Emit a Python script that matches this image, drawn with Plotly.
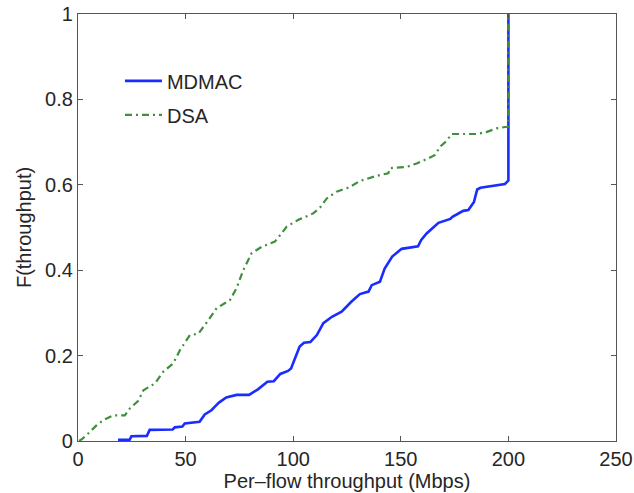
import plotly.graph_objects as go

# Empirical CDF of per-flow throughput (Mbps) for the two schemes
mdmac_x = [18.6, 24.0, 24.8, 32.0, 33.3, 44.0, 45.0, 48.5, 49.6, 56.5, 58.9, 62.0,
           63.5, 65.5, 68.9, 73.7, 79.5, 83.6, 88.0, 91.0, 94.0, 97.6, 99.0, 100.0,
           103.0, 105.0, 108.0, 111.0, 114.0, 118.0, 122.5, 127.0, 131.0, 135.0,
           136.5, 140.3, 142.5, 146.0, 150.4, 158.0, 159.5, 162.0, 167.5, 173.0,
           174.0, 179.0, 181.4, 184.0, 185.5, 187.0, 191.4, 198.4, 199.6, 200.0, 200.0]
mdmac_y = [0.003, 0.003, 0.011, 0.012, 0.026, 0.027, 0.032, 0.034, 0.041, 0.045, 0.062, 0.072,
           0.080, 0.090, 0.102, 0.108, 0.108, 0.121, 0.139, 0.140, 0.157, 0.164, 0.170, 0.183,
           0.221, 0.230, 0.232, 0.248, 0.276, 0.291, 0.303, 0.326, 0.344, 0.350,
           0.365, 0.373, 0.404, 0.432, 0.450, 0.456, 0.471, 0.486, 0.511, 0.520,
           0.525, 0.539, 0.541, 0.560, 0.589, 0.593, 0.597, 0.602, 0.608, 0.610, 1.0]

dsa_x = [0.5, 2.0, 4.0, 8.7, 11.8, 16.4, 21.8, 24.2, 28.0, 30.4, 35.8, 39.6, 44.3,
         47.4, 52.0, 55.9, 60.6, 64.4, 70.6, 73.7, 76.8, 80.7, 85.4, 91.5, 93.9, 97.0,
         102.4, 107.0, 109.3, 112.5, 115.6, 120.2, 126.0, 131.0, 138.8, 144.2, 145.0,
         152.7, 157.4, 162.8, 165.9, 168.2, 171.3, 173.6, 185.3, 190.0, 194.5, 199.2,
         200.0, 200.0]
dsa_y = [0.0, 0.005, 0.014, 0.037, 0.049, 0.060, 0.060, 0.077, 0.094, 0.119, 0.135, 0.162, 0.182,
         0.213, 0.248, 0.251, 0.283, 0.311, 0.330, 0.358, 0.400, 0.440, 0.455, 0.467, 0.482, 0.502,
         0.518, 0.529, 0.533, 0.547, 0.568, 0.584, 0.594, 0.609, 0.621, 0.627, 0.639,
         0.642, 0.650, 0.662, 0.670, 0.689, 0.703, 0.719, 0.719, 0.724, 0.732, 0.736,
         0.737, 1.0]

x_ticks = [0, 50, 100, 150, 200, 250]
y_ticks = [0, 0.2, 0.4, 0.6, 0.8, 1]
y_tick_text = ["0", "0.2", "0.4", "0.6", "0.8", "1"]

FONT = "Liberation Sans, Arial, Helvetica, sans-serif"
AXIS_COLOR = "#555555"
TEXT_COLOR = "#262626"

fig = go.Figure()
fig.add_trace(go.Scatter(
    x=mdmac_x, y=mdmac_y, mode="lines", name="MDMAC", legendgroup="a",
    line=dict(color="#1a2cff", width=2.6),
))
fig.add_trace(go.Scatter(
    x=dsa_x, y=dsa_y, mode="lines", name="DSA", legendgroup="b",
    line=dict(color="#3f8f3f", width=2.2, dash="7px,4px,2px,4px"),
))

axis_common = dict(
    showline=True, linecolor=AXIS_COLOR, linewidth=1.2, mirror="ticks",
    ticks="inside", ticklen=5, tickcolor=AXIS_COLOR, tickwidth=1,
    showgrid=False, zeroline=False, automargin=False,
    tickfont=dict(family=FONT, size=20, color=TEXT_COLOR),
)

fig.update_xaxes(
    range=[0, 250], tickvals=x_ticks, ticktext=[str(v) for v in x_ticks],
    title=dict(text="Per\u2013flow throughput (Mbps)", standoff=2,
               font=dict(family=FONT, size=20, color=TEXT_COLOR)),
    **axis_common,
)
fig.update_yaxes(
    range=[0, 1], tickvals=y_ticks, ticktext=y_tick_text,
    title=dict(text="F(throughput)", standoff=8,
               font=dict(family=FONT, size=20, color=TEXT_COLOR)),
    **axis_common,
)

fig.update_layout(
    width=634, height=493,
    margin=dict(l=78, r=18, t=14, b=52),
    paper_bgcolor="white", plot_bgcolor="white",
    showlegend=True,
    legend=dict(
        x=0.078, y=0.889, xanchor="left", yanchor="top",
        bgcolor="rgba(0,0,0,0)", borderwidth=0,
        font=dict(family=FONT, size=20, color=TEXT_COLOR),
        traceorder="grouped", tracegroupgap=5, itemwidth=37,
    ),
)

fig.write_html("out.html")
